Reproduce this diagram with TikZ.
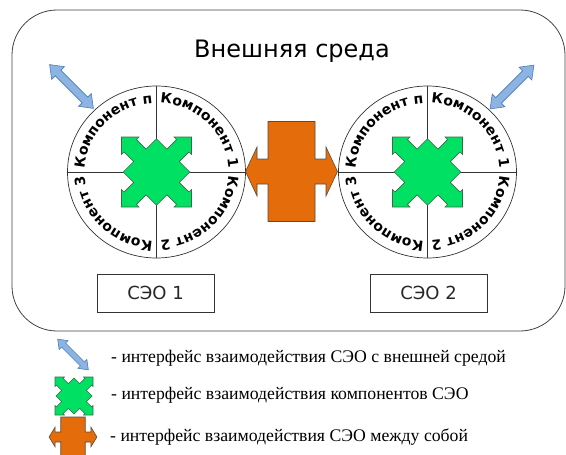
\documentclass[tikz,border=0pt]{standalone}
\usepackage{fontspec}
\setmainfont{Liberation Serif}
\setsansfont{DejaVu Sans}
\newfontfamily\legendfont{Liberation Serif}
\usetikzlibrary{shapes.geometric,decorations.text}
\definecolor{gfill}{HTML}{00E164}
\definecolor{gline}{HTML}{3A6A48}
\definecolor{ofill}{HTML}{E46C0A}
\definecolor{oline}{HTML}{5F4A3A}
\definecolor{bfill}{HTML}{8DB3E2}
\definecolor{bline}{HTML}{4A7EBB}
\newcommand\comptext{\sffamily\bfseries\fontsize{14}{14}\selectfont}
\newcommand\arctext[4]{%
  \path[shift={(#1)}, decorate, decoration={text along path, text align=center,
    text={|\comptext|#4}}] (#2:72 and 69) arc[start angle=#2, end angle=#3, x radius=72, y radius=69];}
\tikzset{
  outer/.style={draw=black!75, line width=0.8pt, rounded corners=45},
  seo/.style={ellipse, draw=black!80, line width=0.7pt, minimum width=178, minimum height=172, inner sep=0, outer sep=0},
  divider/.style={draw=black!80, line width=0.6pt},
  gshape/.style={fill=gfill, draw=gline, line width=0.6pt, line join=miter},
  oshape/.style={fill=ofill, draw=oline, line width=0.6pt, line join=miter},
  bshape/.style={fill=bfill, draw=bline, line width=0.6pt, line join=miter},
  seobox/.style={draw=black!80, line width=0.7pt, minimum width=117, minimum height=38, inner sep=0,
    font=\sffamily\mdseries\fontsize{18}{18}\selectfont, text=black!85},
  legend/.style={anchor=west, inner sep=0, font=\legendfont\mdseries\fontsize{17.7}{17.7}\selectfont},
  gcross/.pic={\path[gshape] (-0.95,0) -- (-0.652,0.298) -- (-0.927,0.573) -- (-1,0.5) -- (-1,1) -- (-0.5,1) -- (-0.573,0.927) -- (-0.298,0.652)
    -- (0,0.95) -- (0.298,0.652) -- (0.573,0.927) -- (0.5,1) -- (1,1) -- (1,0.5) -- (0.927,0.573) -- (0.652,0.298)
    -- (0.95,0) -- (0.652,-0.298) -- (0.927,-0.573) -- (1,-0.5) -- (1,-1) -- (0.5,-1) -- (0.573,-0.927) -- (0.298,-0.652)
    -- (0,-0.95) -- (-0.298,-0.652) -- (-0.573,-0.927) -- (-0.5,-1) -- (-1,-1) -- (-1,-0.5) -- (-0.927,-0.573) -- (-0.652,-0.298) -- cycle;},
  oarrow/.pic={\path[oshape] (-23.5,50) -- (23.5,50) -- (23.5,12.5) -- (34.5,12.5) -- (34.5,24.5) -- (46,0) -- (34.5,-24.5) -- (34.5,-12.5)
    -- (23.5,-12.5) -- (23.5,-50) -- (-23.5,-50) -- (-23.5,-12.5) -- (-34.5,-12.5) -- (-34.5,-24.5) -- (-46,0) -- (-34.5,24.5) -- (-34.5,12.5) -- (-23.5,12.5) -- cycle;},
  barrow/.pic={\path[bshape] (-31,0) -- (-19,9) -- (-19,4) -- (19,4) -- (19,9) -- (31,0) -- (19,-9) -- (19,-4) -- (-19,-4) -- (-19,-9) -- cycle;}
}
\begin{document}
\begin{tikzpicture}[x=1pt, y=1pt]
\useasboundingbox (0,0) rectangle (566,-455);
% environment
\draw[outer] (12,-10) rectangle (565,-331);
\node[font=\sffamily\mdseries\fontsize{24}{24}\selectfont, anchor=base, inner sep=0] (title) at (292,-57) {Внешняя среда};
% СЭО circles
\node[seo] (c1) at (156.5,-172) {};
\node[seo] (c2) at (427.5,-172) {};
\foreach \c in {c1,c2} {
  \draw[divider] (\c.north) -- (\c.south);
  \draw[divider] (\c.west) -- (\c.east);
}
\foreach \c in {c1,c2} {
  \arctext{\c}{180}{90}{Компонент п}
  \arctext{\c}{90}{0}{Компонент 1}
  \arctext{\c}{0}{-90}{Компонент 2}
  \arctext{\c}{-90}{-180}{Компонент 3}
}
\pic[scale=35] at (c1) {gcross};
\pic[scale=35] at (c2) {gcross};
% interaction between СЭО
\pic at (291.5,-171.5) {oarrow};
% external interfaces
\pic[rotate=-45] at (71.5,-86.5) {barrow};
\pic[rotate=45] at (512,-87) {barrow};
% labels
\node[seobox] (s1) at (155.5,-293) {СЭО 1};
\node[seobox] (s2) at (428.5,-293) {СЭО 2};
% legend
\pic[rotate=-45, scale=0.7] at (73,-354.5) {barrow};
\pic[scale=19] at (74,-396) {gcross};
\pic[xscale=0.52, yscale=0.4] at (73,-437) {oarrow};
\node[legend] (l1) at (111,-358) {- интерфейс взаимодействия СЭО с внешней средой};
\node[legend] (l2) at (111,-395) {- интерфейс взаимодействия компонентов СЭО};
\node[legend] (l3) at (110,-437) {- интерфейс взаимодействия СЭО между собой};
\end{tikzpicture}
\end{document}
